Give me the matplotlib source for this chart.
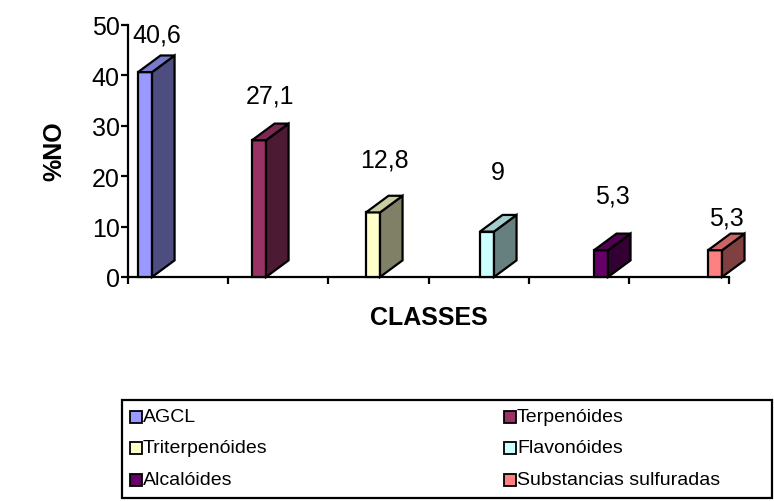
import matplotlib
matplotlib.use("Agg")
import matplotlib.pyplot as plt
from matplotlib.patches import Polygon, Rectangle

plt.rcParams['font.family'] = ['Liberation Sans', 'DejaVu Sans']

# Data
categories = ["AGCL", "Terpenóides", "Triterpenóides", "Flavonóides",
              "Alcalóides", "Substancias sulfuradas"]
values = [40.6, 27.1, 12.8, 9, 5.3, 5.3]
value_labels = ["40,6", "27,1", "12,8", "9", "5,3", "5,3"]
y_ticks = [0, 10, 20, 30, 40, 50]

# Styling: front, side and top face colours for each column
front_colors = ["#9999FF", "#993366", "#FFFFCC", "#CCFFFF", "#660066", "#FF8080"]
side_colors = ["#4D4D80", "#4D1A33", "#808066", "#668080", "#330033", "#804040"]
top_colors = ["#7A7ACC", "#7A2952", "#CCCCA3", "#A3CCCC", "#520052", "#CC6666"]
label_lift = [6.1, 7.4, 9.0, 10.4, 9.4, 5.2]   # label baseline above value

W, H = 774, 502
fig = plt.figure(figsize=(W / 100, H / 100), dpi=100)
ax = fig.add_axes([128 / W, 1 - 278 / H, 601 / W, 252.3 / H])

n = len(values)
ax.set_xlim(0, n)
ax.set_ylim(0, 50)

# Pseudo-3D column geometry (data units)
bar_w = 0.14
depth_x = 0.225
depth_y = 3.3
step = 1.138
start = 0.10

lw = 1.6
for i, v in enumerate(values):
    x0 = start + i * step
    ax.bar(x0, v, width=bar_w, align='edge', color=front_colors[i],
           edgecolor='black', linewidth=lw, zorder=3, clip_on=False)
    side = [(x0 + bar_w, 0), (x0 + bar_w + depth_x, depth_y),
            (x0 + bar_w + depth_x, v + depth_y), (x0 + bar_w, v)]
    ax.add_patch(Polygon(side, closed=True, facecolor=side_colors[i],
                         edgecolor='black', linewidth=lw, zorder=3,
                         joinstyle='miter', clip_on=False))
    top = [(x0, v), (x0 + depth_x, v + depth_y),
           (x0 + bar_w + depth_x, v + depth_y), (x0 + bar_w, v)]
    ax.add_patch(Polygon(top, closed=True, facecolor=top_colors[i],
                         edgecolor='black', linewidth=lw, zorder=3,
                         joinstyle='miter', clip_on=False))
    ax.text(x0 + (bar_w + depth_x) / 2, v + label_lift[i], value_labels[i],
            ha='center', va='baseline', fontsize=18, clip_on=False)

# Axes styling
for s in ['top', 'right']:
    ax.spines[s].set_visible(False)
for s in ['left', 'bottom']:
    ax.spines[s].set_linewidth(1.6)
    ax.spines[s].set_zorder(2)
ax.set_yticks(y_ticks)
ax.set_yticklabels([str(t) for t in y_ticks], fontsize=18)
ax.set_xticks(range(n + 1))
ax.set_xticklabels([])
ax.tick_params(axis='both', direction='out', length=5, width=1.6, pad=1)
ax.patch.set_visible(False)

fig.text(54 / W, 1 - 151 / H, "%NO", rotation=90, fontsize=18,
         fontweight='bold', ha='center', va='center')
fig.text(429 / W, 1 - 318 / H, "CLASSES", fontsize=18, fontweight='bold',
         ha='center', va='center')

# Legend box with two columns of entries
def fx(px):
    return px / W

def fy(py):
    return 1 - py / H

fig.add_artist(Rectangle((fx(122), fy(499)), fx(772) - fx(122), fy(401) - fy(499),
                         transform=fig.transFigure, facecolor='white',
                         edgecolor='black', linewidth=1.6))
col_x = [130, 504]
row_y = [418, 449, 481]
msz = 12
for i, name in enumerate(categories):
    cx = col_x[i % 2]
    ry = row_y[i // 2]
    fig.add_artist(Rectangle((fx(cx), fy(ry + msz / 2)), msz / W, msz / H,
                             transform=fig.transFigure,
                             facecolor=front_colors[i], edgecolor='black',
                             linewidth=1.3))
    fig.text(fx(cx + msz + 1), fy(ry), name, fontsize=14,
             ha='left', va='center')

fig.savefig("out.png", dpi=100)
